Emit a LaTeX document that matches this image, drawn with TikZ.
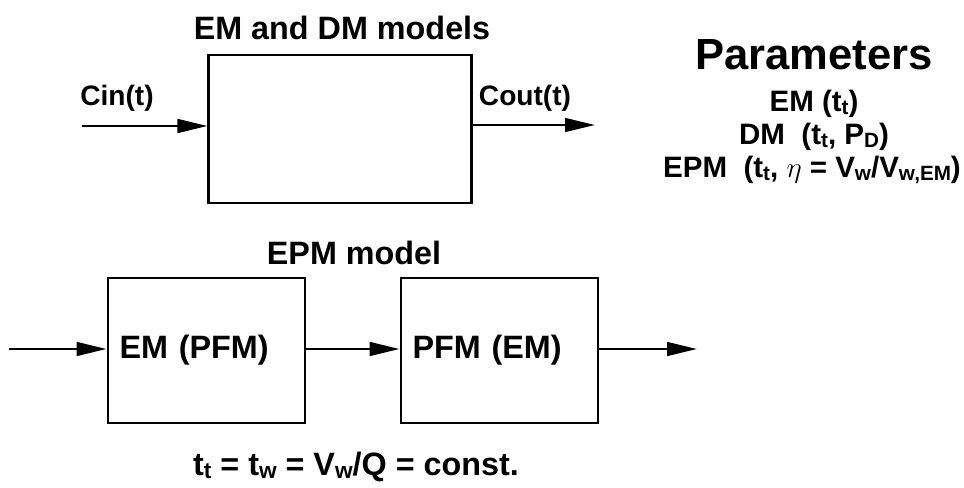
\documentclass[tikz,border=0pt]{standalone}
\usepackage{fontspec}
\setmainfont{Liberation Sans}
\usetikzlibrary{arrows.meta,positioning}
% small lowered letters for indices
\newcommand{\lo}[1]{\raisebox{-0.2ex}{\scalebox{0.7}{#1}}}
\begin{document}
\begin{tikzpicture}[font=\bfseries]
  \tikzstyle{box}=[draw, line width=2pt, minimum width=6.575cm, minimum height=3.7cm]
  \tikzstyle{stage}=[draw, line width=2pt, minimum width=4.925cm, minimum height=3.625cm,
                     text width=4.35cm, align=left, font=\fontsize{23}{26}\selectfont\bfseries]
  \tikzstyle{heading}=[font=\fontsize{23}{26}\selectfont\bfseries]
  \tikzstyle{signal}=[font=\fontsize{20}{22}\selectfont\bfseries]
  \tikzstyle{param}=[font=\fontsize{21}{23}\selectfont\bfseries]
  \tikzstyle{flow}=[line width=2pt, -{Triangle[length=0.75cm,width=0.34cm]}]
  \useasboundingbox (0,0) rectangle (24.1,12.175);

  % single box: EM and DM
  \node[box] (emdm) at (8.51,8.95) {};
  \node[heading] (emdmtitle) at (8.55,11.475) {EM and DM models};
  \coordinate (cin) at (2.05,9.025);
  \coordinate (cout) at (14.875,9.05);
  \draw[flow] (cin) -- (cin -| emdm.west);
  \draw[flow] (emdm.east |- cout) -- (cout);
  \node[signal] (cinlabel) at (2.925,9.725) {Cin(t)};
  \node[signal] (coutlabel) at (13.125,9.725) {Cout(t)};

  % parameters of each model
  \node[font=\fontsize{31}{34}\selectfont\bfseries] (partitle) at (20.35,10.8) {Parameters};
  \node[param] (parem) at (20.35,9.575) {EM (t\lo{t})};
  \node[param] (pardm) at (20.35,8.75) {DM\ \ (t\lo{t}, P\lo{D})};
  \node[param] (parepm) at (20.3,7.925) {EPM\ \ (t\lo{t}, $\eta$ = V\lo{w}/V\lo{w,EM})};

  % two boxes in series: EPM
  \node[heading] (epmtitle) at (8.85,5.85) {EPM model};
  \node[stage] (em) at (5.1625,3.4125) {EM (PFM)};
  \node[stage] (pfm) at (12.4875,3.4125) {PFM (EM)};
  \coordinate (in) at (0.225,3.45);
  \coordinate (out) at (17.425,3.45);
  \draw[flow] (in) -- (in -| em.west);
  \draw[flow] (em.east |- in) -- (in -| pfm.west);
  \draw[flow] (pfm.east |- out) -- (out);

  \node[heading, anchor=base] (ttime) at (8.9,0.3)
    {t\lo{t} = t\lo{w} = V\lo{w}/Q = const.};
\end{tikzpicture}
\end{document}
